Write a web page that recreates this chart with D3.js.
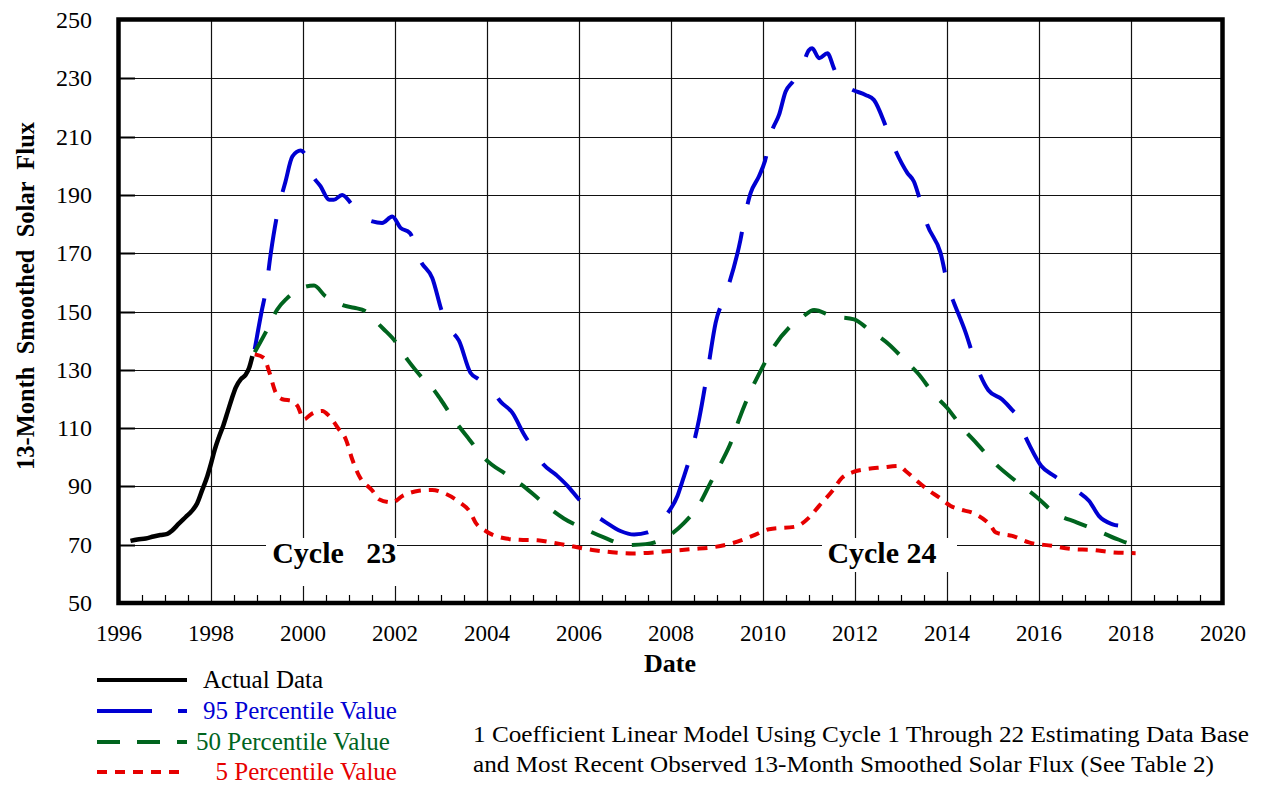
<!DOCTYPE html>
<html>
<head>
<meta charset="utf-8">
<script src="https://cdn.jsdelivr.net/npm/d3@7"></script>
<style>
  html, body { margin: 0; padding: 0; background: #fff; }
  svg { display: block; }
  text { font-family: "Liberation Serif", "Times New Roman", serif; white-space: pre; }
</style>
</head>
<body>
<svg id="chart" width="1262" height="785"></svg>
<script>
// ---------------- DATA ----------------
const xTicks = [1996, 1998, 2000, 2002, 2004, 2006, 2008, 2010, 2012, 2014, 2016, 2018, 2020];
const yTicks = [50, 70, 90, 110, 130, 150, 170, 190, 210, 230, 250];

const actualData = [
  [1996.25,71.3],[1996.4,71.8],[1996.58,72.1],[1996.75,72.8],[1996.9,73.3],[1997.05,73.7],
  [1997.15,74.8],[1997.3,77.2],[1997.45,79.5],[1997.58,81.5],[1997.7,84.2],[1997.81,88.8],
  [1997.92,93.5],[1998.0,97.8],[1998.08,102.5],[1998.17,106.8],[1998.27,111],[1998.36,115.5],
  [1998.45,120],[1998.54,124],[1998.65,126.8],[1998.75,128.2],[1998.83,130.7],[1998.9,134.7]
];

const p95Data = [
  [1998.95,137],[1999.1,150],[1999.19,157],[1999.3,170],[1999.46,184.9],[1999.62,194.6],
  [1999.77,203.2],[1999.95,205.2],[2000.07,203.2],[2000.2,197],[2000.38,193],[2000.57,188.3],
  [2000.67,188.3],[2000.85,190],[2001.07,186.6],[2001.29,182.6],[2001.51,180.9],[2001.72,180.4],
  [2001.94,182.6],[2002.12,178.7],[2002.32,177],[2002.56,167.2],[2002.81,161.5],[2003.03,149.5],
  [2003.2,144],[2003.39,140],[2003.64,129],[2003.8,127],[2004.04,124.4],[2004.3,119],
  [2004.55,115.3],[2004.8,108],[2005.0,103],[2005.2,98],[2005.5,94],[2005.75,90.2],
  [2006.0,85.5],[2006.29,81],[2006.6,77.5],[2006.9,74.7],[2007.2,73.5],[2007.49,74.2],
  [2007.7,76.5],[2007.88,79.9],[2008.14,86.7],[2008.25,91.9],[2008.43,101],[2008.61,113],
  [2008.8,130],[2008.97,146.1],[2009.2,156.4],[2009.51,174.6],[2009.62,183.8],[2009.73,190.6],
  [2009.91,196.3],[2010.04,201.5],[2010.19,211.7],[2010.35,217.5],[2010.49,225.4],[2010.65,228.9],
  [2010.85,234],[2011.0,239.7],[2011.07,240.3],[2011.22,236.9],[2011.4,238.6],[2011.54,233.5],
  [2011.69,228.3],[2011.95,226],[2012.23,224.3],[2012.41,222.6],[2012.67,213.5],[2012.81,207.8],
  [2013.14,197.5],[2013.28,194.6],[2013.39,189.5],[2013.57,179.8],[2013.86,170.1],[2014.04,157.5],
  [2014.15,153],[2014.4,143],[2014.65,131],[2014.9,123],[2015.2,119.8],[2015.4,116.5],
  [2015.57,113],[2015.67,108.4],[2015.82,103.3],[2016.05,97],[2016.33,93.6],[2016.6,90.8],
  [2016.87,87.9],[2017.09,85],[2017.3,79.9],[2017.6,77],[2017.96,75.9],[2018.14,74]
];

const p50Data = [
  [1998.95,136],[1999.22,143.8],[1999.44,150.7],[1999.65,154.5],[1999.84,157],[2000.05,158.5],
  [2000.24,158.9],[2000.49,155.2],[2000.71,153.5],[2000.9,152],[2001.11,151.3],[2001.36,150.1],
  [2001.58,146.7],[2001.75,144],[2001.94,141],[2002.27,133.5],[2002.59,127.3],[2002.8,124],
  [2002.99,119.9],[2003.25,113.6],[2003.61,106.2],[2003.97,99.3],[2004.41,94.2],[2004.8,90],
  [2005.13,85.6],[2005.4,82],[2005.67,79],[2006.14,75.3],[2006.54,72.5],[2007.05,69.9],
  [2007.45,70.2],[2007.92,72.8],[2008.28,77.4],[2008.64,84.5],[2008.86,91.3],[2009.11,98.7],
  [2009.3,105],[2009.48,113],[2009.7,121.6],[2009.96,130],[2010.24,138],[2010.57,144.5],
  [2010.85,148],[2011.11,150.5],[2011.51,148.4],[2011.98,147.3],[2012.3,143.8],[2012.74,138.7],
  [2013.07,133.5],[2013.39,128.4],[2013.72,121.5],[2014.0,117],[2014.33,110.2],[2014.66,104.5],
  [2015.06,97.6],[2015.49,91.9],[2015.96,86.2],[2016.33,81],[2016.83,77.6],[2017.23,75.1],
  [2017.7,71.9],[2018.07,70.2],[2018.17,70.2]
];

const p5Data = [
  [1998.95,135.3],[1999.15,134.1],[1999.26,129.6],[1999.41,122.1],[1999.55,119.9],[1999.77,119.3],
  [1999.88,117.6],[2000.02,113],[2000.17,114.7],[2000.42,115.9],[2000.57,114.1],[2000.78,109.6],
  [2000.93,106.2],[2001.07,99.3],[2001.22,93.6],[2001.51,88.5],[2001.65,85.6],[2001.94,84.5],
  [2002.16,86.7],[2002.52,88.5],[2002.81,88.8],[2003.03,87.9],[2003.39,84.7],[2003.64,81],
  [2003.75,77.6],[2003.97,74.7],[2004.41,72.1],[2004.7,71.7],[2005.1,71.5],[2005.4,70.8],
  [2005.71,69.9],[2006.29,68.2],[2006.72,67.4],[2007.16,67],[2007.67,67.4],[2008.03,67.9],
  [2008.46,68.5],[2008.9,69.1],[2009.33,70.5],[2009.77,73],[2010.13,75.3],[2010.71,76.2],
  [2011.0,79.3],[2011.22,83.3],[2011.51,88.5],[2011.72,93],[2011.94,94.8],[2012.23,95.9],
  [2012.59,96.5],[2012.96,97],[2013.1,95.3],[2013.39,91.3],[2013.61,88.5],[2013.83,86.2],
  [2014.08,83.3],[2014.26,82.2],[2014.62,80.5],[2014.95,76.5],[2015.06,74.2],[2015.42,73],
  [2015.78,70.8],[2016.29,69.6],[2016.72,68.5],[2017.16,68.2],[2017.59,67.4],[2018.1,67.1]
];

const seriesNames = ["Actual Data", "95 Percentile Value", "50 Percentile Value", "  5 Percentile Value"];
const cycleLabels = [
  { text: "Cycle   23", year: 1999.33 },
  { text: "Cycle 24", year: 2011.4 }
];
const xTitle = "Date";
const yTitle = "13-Month  Smoothed  Solar  Flux";
const noteLines = [
  "1 Coefficient Linear Model Using Cycle 1 Through 22 Estimating Data Base",
  "and Most Recent Observed 13-Month Smoothed Solar Flux (See Table 2)"
];

// ---------------- LAYOUT ----------------
const FONT = "Liberation Serif, Times New Roman, serif";
const svg = d3.select("#chart");
const x = d3.scaleLinear().domain([1996, 2020]).range([119, 1223]);
const y = d3.scaleLinear().domain([50, 250]).range([603, 20]);

const colors = { actual: "#000000", p95: "#0000d2", p50: "#00641e", p5: "#e60000" };

// grid lines
const grid = svg.append("g");
grid.selectAll("line.v").data(xTicks.slice(1, -1)).enter().append("line")
  .attr("x1", d => Math.round(x(d)) + 0.5).attr("x2", d => Math.round(x(d)) + 0.5)
  .attr("y1", y(250)).attr("y2", y(50))
  .attr("stroke", "#111").attr("stroke-width", 1.2);
grid.selectAll("line.h").data(yTicks.slice(1, -1)).enter().append("line")
  .attr("x1", x(1996)).attr("x2", x(2020))
  .attr("y1", d => Math.round(y(d)) + 0.5).attr("y2", d => Math.round(y(d)) + 0.5)
  .attr("stroke", "#111").attr("stroke-width", 1.2);

// minor ticks on x axis (every half year)
const minor = d3.range(1996.5, 2020, 0.5).filter(v => Math.abs(v / 2 - Math.round(v / 2)) > 1e-6);
grid.selectAll("line.mt").data(minor).enter().append("line")
  .attr("x1", d => Math.round(x(d)) + 0.5).attr("x2", d => Math.round(x(d)) + 0.5)
  .attr("y1", y(50)).attr("y2", y(50) - 8)
  .attr("stroke", "#000").attr("stroke-width", 1.2);

// y major ticks (short heavy marks)
grid.selectAll("line.yt").data(yTicks.slice(1, -1)).enter().append("line")
  .attr("x1", x(1996)).attr("x2", x(1996) + 16)
  .attr("y1", d => Math.round(y(d)) + 0.5).attr("y2", d => Math.round(y(d)) + 0.5)
  .attr("stroke", "#000").attr("stroke-width", 2);

// cycle label backgrounds
const boxes = [
  { x0: 266, x1: 397, y0: 538, y1: 586 },
  { x0: 822, x1: 957, y0: 538, y1: 572 }
];
svg.selectAll("rect.bg").data(boxes).enter().append("rect")
  .attr("x", d => d.x0).attr("y", d => d.y0)
  .attr("width", d => d.x1 - d.x0).attr("height", d => d.y1 - d.y0)
  .attr("fill", "#fff");

// lines
const line = d3.line().x(d => x(d[0])).y(d => y(d[1])).curve(d3.curveMonotoneX);
const seriesDefs = [
  { data: actualData, color: colors.actual, dash: null, w: 4.5 },
  { data: p95Data, color: colors.p95, dash: "52,28", w: 4 },
  { data: p50Data, color: colors.p50, dash: "24,19", w: 4 },
  { data: p5Data, color: colors.p5, dash: "10,8", w: 4 }
];
seriesDefs.forEach(s => {
  svg.append("path").datum(s.data)
    .attr("d", line)
    .attr("fill", "none")
    .attr("stroke", s.color)
    .attr("stroke-width", s.w)
    .attr("stroke-linejoin", "round")
    .attr("stroke-dasharray", s.dash);
});

// frame
svg.append("rect")
  .attr("x", 118.5).attr("y", 19.5)
  .attr("width", 1222.5 - 118.5).attr("height", 603 - 19.5)
  .attr("fill", "none").attr("stroke", "#000").attr("stroke-width", 4.5);

// tick labels
svg.selectAll("text.yl").data(yTicks).enter().append("text")
  .attr("font-family", FONT)
  .attr("x", 92).attr("y", d => y(d) + 8)
  .attr("text-anchor", "end").attr("font-size", 24).attr("fill", "#000")
  .text(d => d);
svg.selectAll("text.xl").data(xTicks).enter().append("text")
  .attr("font-family", FONT)
  .attr("x", d => x(d)).attr("y", 641)
  .attr("text-anchor", "middle").attr("font-size", 23).attr("fill", "#000")
  .text(d => d);

// axis titles
svg.append("text")
  .attr("font-family", FONT)
  .attr("x", 670).attr("y", 672)
  .attr("text-anchor", "middle").attr("font-size", 26).attr("font-weight", "bold")
  .text(xTitle);
svg.append("text")
  .attr("font-family", FONT)
  .attr("transform", "translate(34,296) rotate(-90)")
  .attr("text-anchor", "middle").attr("font-size", 24.5).attr("font-weight", "bold")
  .text(yTitle);

// cycle labels
svg.selectAll("text.cy").data(cycleLabels).enter().append("text")
  .attr("font-family", FONT)
  .attr("x", d => x(d.year)).attr("y", 563)
  .attr("font-size", 30).attr("font-weight", "bold")
  .text(d => d.text);

// legend
const legendRows = [
  { y: 680, color: colors.actual, dash: null, tx: 203 },
  { y: 711, color: colors.p95, dash: "55,26", tx: 203 },
  { y: 742, color: colors.p50, dash: "23,17", tx: 196 },
  { y: 772, color: colors.p5, dash: "10,8", tx: 203 }
];
legendRows.forEach((r, i) => {
  svg.append("line")
    .attr("x1", 97).attr("x2", 187).attr("y1", r.y).attr("y2", r.y)
    .attr("stroke", r.color).attr("stroke-width", 4)
    .attr("stroke-dasharray", r.dash);
  svg.append("text")
    .attr("font-family", FONT)
    .attr("x", r.tx).attr("y", r.y + 8)
    .attr("font-size", 25).attr("fill", r.color)
    .text(seriesNames[i]);
});

// note
const noteWidths = [776, 741];
svg.selectAll("text.note").data(noteLines).enter().append("text")
  .attr("font-family", FONT)
  .attr("x", 473).attr("y", (d, i) => 742 + i * 30)
  .attr("font-size", 24).attr("fill", "#000")
  .attr("textLength", (d, i) => noteWidths[i])
  .attr("lengthAdjust", "spacingAndGlyphs")
  .text(d => d);
</script>
</body>
</html>
